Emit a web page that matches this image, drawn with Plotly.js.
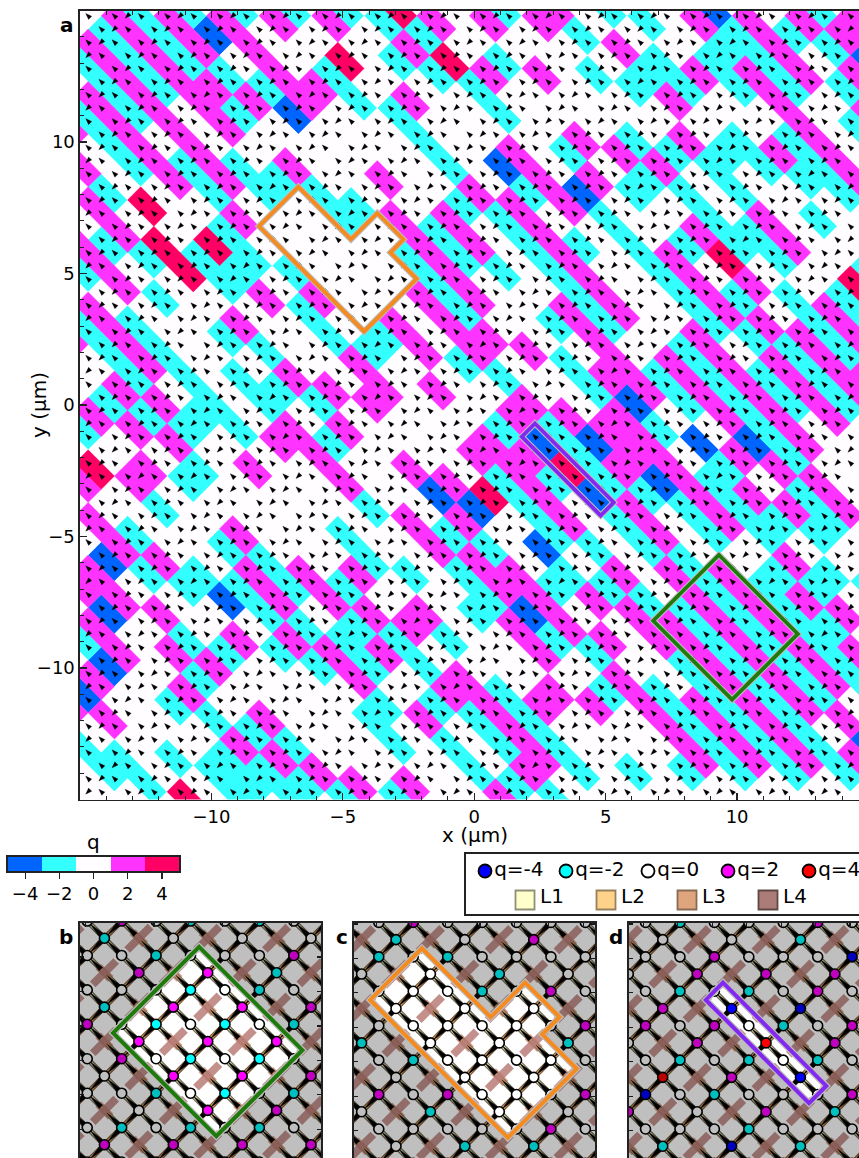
<!DOCTYPE html>
<html><head><meta charset="utf-8">
<script src="https://cdn.plot.ly/plotly-3.0.1.min.js"></script>
<style>html,body{margin:0;padding:0;background:#fff;overflow:hidden}#g{width:880px;height:1180px}</style>
</head><body><div id="g"></div><script>
// q, tile by tile, along each diagonal stripe (d = k-j); each char is one 2-cell tile.
const stripeD=[50,48,46,44,42,40,38,36,34,32,30,28,26,24,22,20,18,16,14,12,10,8,6,4,2,0,-2,-4,-6,-8,-10,-12,-14,-16,-18,-20,-22,-24,-26,-28,-30,-32,-34,-36,-38,-40,-42,-44,-46,-48,-50,-52,-54,-56,-58,-60,-62,-64,-66];
const stripeStartJ=[-1,-2,-1,0,-1,-2,-1,-2,-1,-2,-1,-2,-1,-2,-1,-2,-1,-2,-1,-2,-1,-2,-1,-2,-1,-2,-1,-2,-1,0,1,2,5,6,7,10,13,14,15,18,21,22,23,26,29,30,33,34,37,40,41,42,45,46,49,50,51,54,56];
const stripeQ=["m","cmb","mcm","c.cm","mmm.c","bccc","mcmmmmm","..cc.ccc","c.m..mc","c.cc.cc.c.c",".mcm.c....rc","mc.c.mccmm.cc","m.c..c..cc.mm","c....cmccc.cccm","m.m..mc.mrm.mmm","..c..m.c.c.cmccc","m.m..cm..mmmcmmm","rcrcc..bccccc.cc.","cmc..mmm....mmmmm..","c.c...bc.c...cccccmm","m..m...mmmmm.mmmbmcc","c.r.cccmccccc.cc.m.mc.c","m.cc...c...mmmm.bcmc.c.","c..m....mmc.c.mbc.cccmcm","mmmm..m.cc...ccmmmmm.cmcm","cb.cb...mmmm.m..mmbcc.ccccc","mmcm...c.cccm..mbmc..mmmmm","cccmc.mcc..mmmcmcccmmccccccmb","mmmmm.c......c.mbrbccmmmmmm.m","ccc..cc....mm..cmc....ccccccc.","mmmmmm.....c.m.mmmmcmcmmmmmm.","ccc.ccm.cm.c...mccc.cmmccccc.","mmmm.cc.ccmm...r.bcm...mmm.","ccc..rcm...m..mb..c.m.cccc.","m..r.cc...m..mbmcmmmcmmmm.","mc.rr.mcmcm...cmmbc.c..c.","mmc..c.c.c..mmccmm.m...",".c.c..ccmmmc...c..m..c.","mmm.....m....c....m...","c.ccccc...cc.mc.cccc.","mmm.c.m...m.m.mmmm.","cccmc.....cmccmccmc","m.mcmc...mmcm.c..c",".cm.c.mcc.cc.mccm","m.m..cmmcmmc...","c.mc..ccmc.cc..","r...cb.c....m","m.cmc.m.....c","mmc..c....m","b.mcm.mcmc","mm.mc.cmc","mb..mcmcc","mm.c.cc","cb...cc","m..c.","bm..r","m.cc","cc.","m."];
const qChars={'.':0,c:-2,m:2,b:-4,r:4};
const qLevels=[-4,-2,0,2,4];
const cellColors=['#0064ff','#33ffff','#fffdff','#ff33ff','#ff0064'];
const nodeColors={'-4':'#0000ff','-2':'#00ffff','0':'#ffffff','2':'#ff00ff','4':'#ff0000'};
// lattice origin and pitch as measured on the picture (micrometres)
const X0=-10.19, Y0=14.297, STEP=0.5;
// arrow sublattices: a 4x4 tile read from a clean crop and repeated over the map, so
// individual arrow flips are not reproduced. n = up-left, s = down-left, . = no arrow
const arrowTile=["nsn.","sn.n","n.ns",".nsn"];
// region outlines, micrometres
const greenX=[9.31,12.31,9.81,6.81], greenY=[-5.703,-8.703,-11.203,-8.203];
const orangeX=[-6.69,-4.69,-3.69,-2.69,-3.19,-2.19,-4.19,-8.19], orangeY=[8.297,6.297,7.297,6.297,5.797,4.797,2.797,6.797];
const purpleX=[2.31,5.31,4.81,1.81], purpleY=[-0.703,-3.703,-4.203,-1.203];
const legendQ=[-4,-2,0,2,4], legendQLabels=["q=-4","q=-2","q=0","q=2","q=4"];
const legendQpx=[485,566,648,728,809];
const layerLabels=["L1","L2","L3","L4"], layerColors=['#ffffcc','#ffd28c','#dfa67e','#aa7d78'], layerEdges=['#8f8f78','#97805c','#8a6a52','#604846'], layerPx=[525,606,687,768];
const mainTicks=[-10,-5,0,5,10];
const FONT="DejaVu Sans";

const W=880,H=1180;
const dx=(a,b)=>[a/W,b/W], dy=(top,bot)=>[(H-bot)/H,(H-top)/H];
const xOf=k=>X0+STEP*k, yOf=j=>Y0-STEP*j;

// expand stripes into a tile table
const tiles=[];const lookup={};
stripeD.forEach((d,i)=>{[...stripeQ[i]].forEach((c,t)=>{lookup[d+'_'+(stripeStartJ[i]+2*t)]=qChars[c];});});
for(let d=-72;d<=56;d+=2){
  const odd=((d%4)+4)%4===2;
  for(let j=odd?-3:-4;j<=62;j+=2){
    const k=d+j; if(k<-14||k>56) continue;
    tiles.push({d,j,k,odd,q:lookup[d+'_'+j]||0});
  }
}
const traces=[];
// main q cells
qLevels.forEach((q,i)=>{
  const xs=[],ys=[];
  tiles.filter(t=>t.q===q).forEach(t=>{
    const c=[[t.k,t.j-1],[t.k+2,t.j+1],[t.k+1,t.j+2],[t.k-1,t.j],[t.k,t.j-1]];
    c.forEach(p=>{xs.push(xOf(p[0]));ys.push(yOf(p[1]));});xs.push(null);ys.push(null);
  });
  traces.push({type:'scatter',mode:'lines',x:xs,y:ys,xaxis:'x',yaxis:'y',fill:'toself',fillcolor:cellColors[i],
    line:{color:cellColors[i],width:0.4,simplify:false},hoverinfo:'skip',showlegend:false});
});
const sites=[];
for(let j=-4;j<=62;j++)for(let k=-14;k<=56;k++){
  const c=arrowTile[((j%4)+4)%4][((k%4)+4)%4];
  if(c!=='.')sites.push({k,j,c});
}
function arrowTrace(xa,ya,range,L,B){
  const xs=[],ys=[];const r=Math.SQRT1_2;
  sites.forEach(s=>{
    const x=xOf(s.k),y=yOf(s.j);
    if(x<range[0]-.5||x>range[1]+.5||y<range[2]-.5||y>range[3]+.5)return;
    const ux=-r, uy=s.c==='n'?r:-r;   // pointing direction
    const px=-uy, py=ux;
    xs.push(x+ux*L*.55, x-ux*L*.45+px*B/2, x-ux*L*.45-px*B/2, x+ux*L*.55, null);
    ys.push(y+uy*L*.55, y-uy*L*.45+py*B/2, y-uy*L*.45-py*B/2, y+uy*L*.55, null);
  });
  return {type:'scatter',mode:'lines',x:xs,y:ys,xaxis:xa,yaxis:ya,fill:'toself',fillcolor:'#000',line:{color:'#000',width:0.3,simplify:false},hoverinfo:'skip',showlegend:false};
}
traces.push(arrowTrace('x','y',[-15,15,-15,15],0.24,0.17));

const panels=[
 {xa:'x2',ya:'y2',xr:[5.85,12.85],yr:[-12.01,-5.01],px:[80,321],ox:greenX,oy:greenY,col:'#1e7a0a'},
 {xa:'x3',ya:'y3',xr:[-8.66,-1.66],yr:[2.03,9.03],px:[354,595],ox:orangeX,oy:orangeY,col:'#f58a1f'},
 {xa:'x4',ya:'y4',xr:[-0.42,6.58],yr:[-5.97,1.03],px:[629,870],ox:purpleX,oy:purpleY,col:'#8228f0'}
];
const inP=(p,x,y)=>x>p.xr[0]-.6&&x<p.xr[1]+.6&&y>p.yr[0]-.6&&y<p.yr[1]+.6;
const shapes=[];
panels.forEach(p=>{
  const yl={xs:[],ys:[]},or={xs:[],ys:[]};
  sites.forEach(s=>{
    const x=xOf(s.k),y=yOf(s.j); if(!inP(p,x,y))return;
    if(s.c==='n'){yl.xs.push(xOf(s.k-.5),xOf(s.k+.5),null);yl.ys.push(yOf(s.j-.5),yOf(s.j+.5),null);}
    else{or.xs.push(xOf(s.k-.5),xOf(s.k+.5),null);or.ys.push(yOf(s.j+.5),yOf(s.j-.5),null);}
  });
  const line=(o,c,w)=>({type:'scatter',mode:'lines',x:o.xs,y:o.ys,xaxis:p.xa,yaxis:p.ya,line:{color:c,width:w,simplify:false},hoverinfo:'skip',showlegend:false});
  traces.push(line(yl,'#6f6a55',5.5),line(yl,'#ece8b8',3));
  traces.push(line(or,'#7a5a3a',5.5),line(or,'#e8b070',3));
  // X crosses and nodes
  const x4={xs:[],ys:[]},x3={xs:[],ys:[]},nx=[],ny=[],nc=[];
  tiles.forEach(t=>{
    const K=t.k+.5,J=t.j+.5,x=xOf(K),y=yOf(J);
    if(inP(p,x,y)){nx.push(x);ny.push(y);nc.push(nodeColors[t.q]);}
    const K2=K+1,J2=J+1,x2=xOf(K2),y2=yOf(J2);
    if(!inP(p,x2,y2))return;
    if(t.odd){nx.push(x2);ny.push(y2);nc.push('#ffffff');}
    else{
      x4.xs.push(xOf(K2-.68),xOf(K2+.68),null);x4.ys.push(yOf(J2+.68),yOf(J2-.68),null);
      x3.xs.push(xOf(K2-.36),xOf(K2+.36),null);x3.ys.push(yOf(J2-.36),yOf(J2+.36),null);
    }
  });
  traces.push(line(x3,'rgba(176,100,70,0.6)',8));
  traces.push(line(x4,'rgba(185,125,120,0.85)',8));
  traces.push(arrowTrace(p.xa,p.ya,[p.xr[0],p.xr[1],p.yr[0],p.yr[1]],0.46,0.14));
  traces.push({type:'scatter',mode:'markers',x:nx,y:ny,xaxis:p.xa,yaxis:p.ya,marker:{size:10,color:nc,line:{color:'#000',width:1.6}},hoverinfo:'skip',showlegend:false});
  // gray veil outside the region
  const poly=p.ox.map((v,i)=>(i?'L':'M')+v+' '+p.oy[i]).join(' ')+' Z';
  const outer=`M${p.xr[0]} ${p.yr[0]} L${p.xr[1]} ${p.yr[0]} L${p.xr[1]} ${p.yr[1]} L${p.xr[0]} ${p.yr[1]} Z `;
  shapes.push({type:'path',xref:p.xa,yref:p.ya,layer:'above',path:outer+poly,fillrule:'evenodd',fillcolor:'rgba(0,0,0,0.25)',line:{width:0}});
  shapes.push({type:'path',xref:p.xa,yref:p.ya,layer:'above',path:poly,line:{color:'#bdbdbd',width:6.5}});
  shapes.push({type:'path',xref:p.xa,yref:p.ya,layer:'above',path:poly,line:{color:p.col,width:4}});
  // same outline on the main map
  shapes.push({type:'path',xref:'x',yref:'y',layer:'above',path:poly,line:{color:'#bdbdbd',width:6}});
  shapes.push({type:'path',xref:'x',yref:'y',layer:'above',path:poly,line:{color:p.col,width:3.8}});
});
// colorbar
traces.push({type:'heatmap',x:qLevels,y:[0],z:[qLevels],zmin:-5,zmax:5,xaxis:'x5',yaxis:'y5',showscale:false,hoverinfo:'skip',
  colorscale:[[0,cellColors[0]],[.2,cellColors[0]],[.2,cellColors[1]],[.4,cellColors[1]],[.4,cellColors[2]],[.6,cellColors[2]],[.6,cellColors[3]],[.8,cellColors[3]],[.8,cellColors[4]],[1,cellColors[4]]]});
// legend drawn on its own little axes (pixel-like units)
traces.push({type:'scatter',mode:'markers+text',x:legendQpx,y:legendQpx.map(()=>871),xaxis:'x6',yaxis:'y6',text:legendQLabels,textposition:'middle right',
  textfont:{family:FONT,size:20,color:'#000'},marker:{size:13,color:legendQ.map(q=>nodeColors[q]),line:{color:'#000',width:1.8}},hoverinfo:'skip',showlegend:false});
traces.push({type:'scatter',mode:'markers',x:layerPx,y:layerPx.map(()=>900),xaxis:'x6',yaxis:'y6',marker:{symbol:'square',size:19,color:layerColors,line:{color:layerEdges,width:1.8}},hoverinfo:'skip',showlegend:false});
traces.push({type:'scatter',mode:'text',x:layerPx.map(v=>v+15),y:layerPx.map(()=>898),xaxis:'x6',yaxis:'y6',text:layerLabels,textposition:'middle right',
  textfont:{family:FONT,size:20,color:'#000'},hoverinfo:'skip',showlegend:false});

const spine={showgrid:false,zeroline:false,showline:true,mirror:'ticks',linecolor:'#222',linewidth:1.6,tickcolor:'#222',tickwidth:1.2,tickfont:{family:FONT,size:18,color:'#000'}};
const mainAxis=(extra)=>Object.assign({},spine,{range:[-15,15],tickmode:'array',tickvals:mainTicks,ticks:'inside',ticklen:7,minor:{ticks:'inside',dtick:1,tick0:0,ticklen:4,tickcolor:'#222',tickwidth:1}},extra);
const panelAxis=(extra)=>Object.assign({},spine,{tick0:0,dtick:1,ticks:'inside',ticklen:4,showticklabels:false},extra);
const note=(px,py,text,size,extra)=>Object.assign({xref:'paper',yref:'paper',x:px/W,y:(H-py)/H,xanchor:'center',yanchor:'middle',text,showarrow:false,font:{family:FONT,size,color:'#000'}},extra||{});
const layout={width:W,height:H,margin:{l:0,r:0,t:0,b:0},paper_bgcolor:'#fff',plot_bgcolor:'#fff',showlegend:false,font:{family:FONT,size:18,color:'#000'},shapes,
  xaxis:mainAxis({domain:dx(80,868.5),anchor:'y'}),
  yaxis:mainAxis({domain:dy(10.5,799.5),anchor:'x'}),
  xaxis5:Object.assign({},spine,{domain:dx(8,179),anchor:'y5',range:[-5,5],tickmode:'array',tickvals:qLevels,ticks:'outside',ticklen:6,mirror:true}),
  yaxis5:Object.assign({},spine,{domain:dy(857,871),anchor:'x5',range:[-.5,.5],showticklabels:false,ticks:'',mirror:true}),
  xaxis6:{domain:dx(466,880),anchor:'y6',range:[466,880],showgrid:false,zeroline:false,showticklabels:false,ticks:'',showline:true,mirror:true,linecolor:'#222',linewidth:1.6},
  yaxis6:{domain:dy(854,914),anchor:'x6',range:[914,854],showgrid:false,zeroline:false,showticklabels:false,ticks:'',showline:true,mirror:true,linecolor:'#222',linewidth:1.6},
  annotations:[
    note(474.5,835,'x (µm)',20), note(39,405,'y (µm)',20,{textangle:-90}), note(93.5,842,'q',20),
    note(67,25,'<b>a</b>',20), note(66,937,'<b>b</b>',20), note(342,937,'<b>c</b>',20), note(616,937,'<b>d</b>',20)
  ]};
panels.forEach((p,i)=>{
  const n=i+2;
  layout['xaxis'+n]=panelAxis({domain:dx(p.px[0],p.px[1]),anchor:'y'+n,range:p.xr});
  layout['yaxis'+n]=panelAxis({domain:dy(923,1164),anchor:'x'+n,range:p.yr});
});
Plotly.newPlot('g',traces,layout,{displayModeBar:false,staticPlot:true});
</script></body></html>
